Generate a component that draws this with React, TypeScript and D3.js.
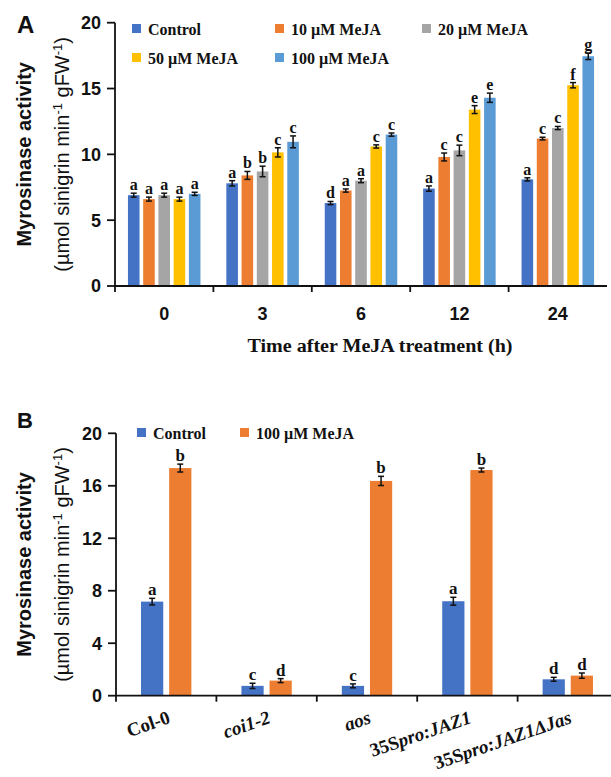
import React from 'react';
import * as d3 from 'd3';

// Panel A: time course
const timePoints = ['0', '3', '6', '12', '24'];
const seriesA = ['Control', '10 µM MeJA', '20 µM MeJA', '50 µM MeJA', '100 µM MeJA'];
const colorsA = ['#4472C4', '#ED7D31', '#A5A5A5', '#FFC000', '#5B9BD5'];
const controlA = [6.9, 7.8, 6.3, 7.4, 8.1];
const meja10A = [6.6, 8.4, 7.25, 9.8, 11.2];
const meja20A = [6.9, 8.7, 8.0, 10.3, 12.0];
const meja50A = [6.6, 10.15, 10.6, 13.4, 15.25];
const meja100A = [7.0, 10.95, 11.5, 14.3, 17.45];
const controlErrA = [0.15, 0.2, 0.12, 0.2, 0.12];
const meja10ErrA = [0.15, 0.3, 0.12, 0.3, 0.1];
const meja20ErrA = [0.15, 0.4, 0.15, 0.4, 0.12];
const meja50ErrA = [0.15, 0.35, 0.12, 0.3, 0.2];
const meja100ErrA = [0.12, 0.45, 0.12, 0.35, 0.25];
const controlLetA = ['a', 'a', 'd', 'a', 'a'];
const meja10LetA = ['a', 'b', 'a', 'c', 'c'];
const meja20LetA = ['a', 'b', 'a', 'c', 'c'];
const meja50LetA = ['a', 'c', 'c', 'e', 'f'];
const meja100LetA = ['a', 'c', 'c', 'e', 'g'];
const ticksA = [0, 5, 10, 15, 20];

// Panel B: mutants
const genotypes = ['Col-0', 'coi1-2', 'aos', '35Spro:JAZ1', '35Spro:JAZ1ΔJas'];
const seriesB = ['Control', '100 µM MeJA'];
const colorsB = ['#4472C4', '#ED7D31'];
const controlB = [7.17, 0.75, 0.75, 7.2, 1.25];
const mejaB = [17.35, 1.15, 16.37, 17.2, 1.53];
const controlErrB = [0.25, 0.2, 0.15, 0.3, 0.15];
const mejaErrB = [0.3, 0.15, 0.35, 0.15, 0.2];
const controlLetB = ['a', 'c', 'c', 'a', 'd'];
const mejaLetB = ['b', 'd', 'b', 'b', 'd'];
const ticksB = [0, 4, 8, 12, 16, 20];

// genotype labels: [text, italic]
const genotypeParts: Record<string, [string, boolean][]> = {
  'Col-0': [['Col-0', false]],
  'coi1-2': [['coi1-2', true]],
  'aos': [['aos', true]],
  '35Spro:JAZ1': [['35S', false], ['pro:JAZ1', true]],
  '35Spro:JAZ1ΔJas': [['35S', false], ['pro:JAZ1ΔJas', true]],
};

const SANS = 'Liberation Sans, Arial, sans-serif';
const SERIF = 'Liberation Serif, Times New Roman, serif';

interface Panel {
  cats: string[];
  series: string[];
  colors: string[];
  means: number[][];
  errs: number[][];
  letters: string[][];
  ticks: number[];
  x0: d3.ScaleBand<string>;
  x1: d3.ScaleBand<string>;
  y: d3.ScaleLinear<number, number>;
  letterSize: number;
}

function Bars({ p }: { p: Panel }) {
  const [yBase] = p.y.range();
  return (
    <g>
      {p.series.map((s, si) => (
        <g key={s}>
          {p.cats.map((c, ci) => {
            const v = p.means[si][ci];
            const e = p.errs[si][ci];
            const bx = (p.x0(c) ?? 0) + (p.x1(s) ?? 0);
            const bw = p.x1.bandwidth();
            const cx = bx + bw / 2;
            return (
              <g key={c}>
                <rect x={bx} y={p.y(v)} width={bw} height={yBase - p.y(v)} fill={p.colors[si]} />
                <g stroke="#111" strokeWidth={1.5}>
                  <line x1={cx} x2={cx} y1={p.y(v - e)} y2={p.y(v + e)} />
                  <line x1={cx - 3} x2={cx + 3} y1={p.y(v - e)} y2={p.y(v - e)} />
                  <line x1={cx - 3} x2={cx + 3} y1={p.y(v + e)} y2={p.y(v + e)} />
                </g>
                <text x={cx} y={p.y(v + e) - 3} textAnchor="middle" fontFamily={SERIF}
                  fontWeight="bold" fontSize={p.letterSize} fill="#111">{p.letters[si][ci]}</text>
              </g>
            );
          })}
        </g>
      ))}
    </g>
  );
}

function Axes({ p, axisX }: { p: Panel; axisX: number }) {
  const [yBase, yTop] = p.y.range();
  const [, xEnd] = p.x0.range();
  return (
    <g stroke="#111" strokeWidth={1.8} fill="none">
      <line x1={axisX} x2={axisX} y1={yTop} y2={yBase} />
      <line x1={axisX} x2={xEnd} y1={yBase} y2={yBase} />
      {p.ticks.map(t => (
        <line key={t} x1={axisX - 8} x2={axisX} y1={p.y(t)} y2={p.y(t)} />
      ))}
      {p.cats.map(c => (
        <line key={c} x1={p.x0(c)} x2={p.x0(c)} y1={yBase} y2={yBase + 6} />
      ))}
    </g>
  );
}

function YTicks({ p, axisX }: { p: Panel; axisX: number }) {
  return (
    <g fontFamily={SANS} fontWeight="bold" fontSize={18} fill="#111" textAnchor="end">
      {p.ticks.map(t => (
        <text key={t} x={axisX - 14} y={p.y(t)} dy="0.36em">{t}</text>
      ))}
    </g>
  );
}

function YTitle({ p }: { p: Panel }) {
  const [yBase, yTop] = p.y.range();
  const cy = (yBase + yTop) / 2;
  return (
    <g fill="#111" fontFamily={SANS} textAnchor="middle">
      <text transform={`translate(31,${cy}) rotate(-90)`} fontWeight="bold" fontSize={20}>Myrosinase activity</text>
      <text transform={`translate(69,${cy}) rotate(-90)`} fontSize={20}>
        (µmol sinigrin min<tspan fontSize={13} dy={-7}>-1</tspan><tspan dy={7}> gFW</tspan>
        <tspan fontSize={13} dy={-7}>-1</tspan><tspan dy={7}>)</tspan>
      </text>
    </g>
  );
}

function Legend({ series, colors, cols, rowY, rowGap, perRow }: {
  series: string[]; colors: string[]; cols: number[]; rowY: number; rowGap: number; perRow: number;
}) {
  return (
    <g fontFamily={SERIF} fontWeight="bold" fontSize={16} fill="#111">
      {series.map((s, i) => {
        const lx = cols[i % perRow];
        const ly = rowY + Math.floor(i / perRow) * rowGap;
        return (
          <g key={s}>
            <rect x={lx} y={ly - 5} width={9} height={9} fill={colors[i]} />
            <text x={lx + 16} y={ly} dy="0.35em">{s}</text>
          </g>
        );
      })}
    </g>
  );
}

export default function App() {
  const width = 611;
  const height = 777;

  // Panel A scales
  const axisXA = 115;
  const x0A = d3.scaleBand<string>().domain(timePoints).range([axisXA, 607]);
  const x1A = d3.scaleBand<string>().domain(seriesA).range([0, x0A.bandwidth()])
    .paddingInner(0.24).paddingOuter(0.85);
  const yA = d3.scaleLinear().domain([0, 20]).range([286, 22.7]);
  const panelA: Panel = {
    cats: timePoints, series: seriesA, colors: colorsA,
    means: [controlA, meja10A, meja20A, meja50A, meja100A],
    errs: [controlErrA, meja10ErrA, meja20ErrA, meja50ErrA, meja100ErrA],
    letters: [controlLetA, meja10LetA, meja20LetA, meja50LetA, meja100LetA],
    ticks: ticksA, x0: x0A, x1: x1A, y: yA, letterSize: 16,
  };

  // Panel B scales
  const axisXB = 116;
  const x0B = d3.scaleBand<string>().domain(genotypes).range([axisXB, 618]);
  const x1B = d3.scaleBand<string>().domain(seriesB).range([0, x0B.bandwidth()])
    .paddingInner(0.21).paddingOuter(0.89);
  const yB = d3.scaleLinear().domain([0, 20]).range([695.7, 433.3]);
  const panelB: Panel = {
    cats: genotypes, series: seriesB, colors: colorsB,
    means: [controlB, mejaB],
    errs: [controlErrB, mejaErrB],
    letters: [controlLetB, mejaLetB],
    ticks: ticksB, x0: x0B, x1: x1B, y: yB, letterSize: 17,
  };

  return (
    <svg width={width} height={height} style={{ position: 'absolute', left: 0, top: 0, background: '#fff' }}>
      <rect width={width} height={height} fill="#fff" />

      {/* Panel A */}
      <text x={17} y={33} fontFamily={SANS} fontWeight="bold" fontSize={24} fill="#111">A</text>
      <YTitle p={panelA} />
      <YTicks p={panelA} axisX={axisXA} />
      <Bars p={panelA} />
      <Axes p={panelA} axisX={axisXA} />
      <g fontFamily={SANS} fontWeight="bold" fontSize={18} fill="#111" textAnchor="middle">
        {timePoints.map(t => (
          <text key={t} x={(x0A(t) ?? 0) + x0A.bandwidth() / 2} y={320}>{t}</text>
        ))}
      </g>
      <text x={380} y={352} textAnchor="middle" fontFamily={SERIF} fontWeight="bold" fontSize={18}
        fill="#111" textLength={265} lengthAdjust="spacingAndGlyphs">Time after MeJA treatment (h)</text>
      <Legend series={seriesA} colors={colorsA} cols={[132, 275, 422]} rowY={29} rowGap={29} perRow={3} />

      {/* Panel B */}
      <text x={17} y={428} fontFamily={SANS} fontWeight="bold" fontSize={22} fill="#111">B</text>
      <YTitle p={panelB} />
      <YTicks p={panelB} axisX={axisXB} />
      <Bars p={panelB} />
      <Axes p={panelB} axisX={axisXB} />
      <g fontFamily={SERIF} fontWeight="bold" fontSize={19} fill="#111" textAnchor="end">
        {genotypes.map(g => (
          <text key={g}
            transform={`translate(${(x0B(g) ?? 0) + x0B.bandwidth() / 2 + 5},${yB(0) + 27}) rotate(-19)`}>
            {genotypeParts[g].map(([t, it], i) => (
              <tspan key={i} fontStyle={it ? 'italic' : 'normal'}>{t}</tspan>
            ))}
          </text>
        ))}
      </g>
      <Legend series={seriesB} colors={colorsB} cols={[137, 240]} rowY={433} rowGap={0} perRow={2} />
    </svg>
  );
}
